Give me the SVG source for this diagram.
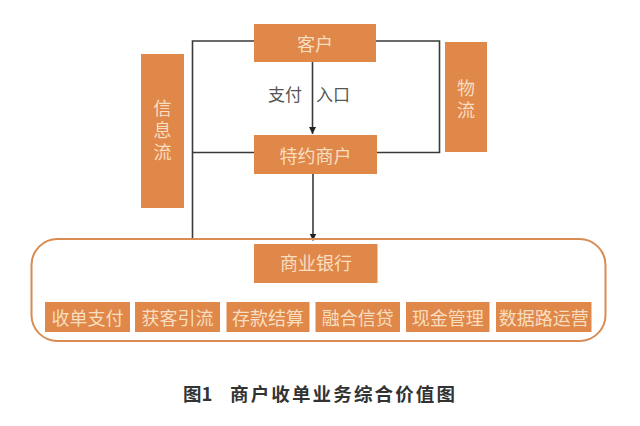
<svg xmlns="http://www.w3.org/2000/svg" width="640" height="426" viewBox="0 0 640 426">
<defs>
<marker id="ah" viewBox="0 0 10 10" refX="10" refY="5" markerWidth="7" markerHeight="7" markerUnits="userSpaceOnUse" orient="auto">
<path d="M0,0 L10,5 L0,10 z" fill="#222"/>
</marker>
<style>
.box{fill:#E0884A;}
.t{font-family:"Noto Sans CJK SC","Noto Sans",sans-serif;font-size:18px;fill:#F8DEC0;text-anchor:middle;dominant-baseline:central;}
.v{font-family:"Noto Sans CJK SC","Noto Sans",sans-serif;font-size:18px;fill:#F8DEC0;text-anchor:middle;writing-mode:vertical-rl;letter-spacing:4px;}
.ln{fill:none;stroke:#3a3a3a;stroke-width:1.6;}
.lbl{font-family:"Noto Sans CJK SC","Noto Sans",sans-serif;font-size:17px;fill:#555;dominant-baseline:central;}
.cap{font-family:"Noto Sans CJK SC","Noto Sans",sans-serif;font-size:18.5px;font-weight:bold;fill:#333;dominant-baseline:central;}
</style>
</defs>
<rect width="640" height="426" fill="#fff"/>
<g id="connectors">
<path class="ln" d="M254,41 H192.5 V239"/>
<path class="ln" d="M192.5,152.5 H254"/>
<path class="ln" d="M376,41 H439.5 V152.5 H376"/>
<path class="ln" d="M312.5,62 V134" marker-end="url(#ah)"/>
<path class="ln" d="M313,174 V240.5" marker-end="url(#ah)"/>
<text class="lbl" x="268" y="93">支付</text>
<text class="lbl" x="316" y="93">入口</text>
</g>
<g id="bank-group">
<rect x="31.5" y="239" width="574" height="102" rx="26" fill="none" stroke="#D98C52" stroke-width="2"/>
</g>
<g id="customer"><rect class="box" x="254" y="24" width="122" height="38"/><text class="t" x="315" y="43">客户</text></g>
<g id="merchant"><rect class="box" x="254" y="135" width="123" height="39"/><text class="t" x="315.5" y="155">特约商户</text></g>
<g id="info-flow"><rect class="box" x="141" y="54" width="43" height="154"/>
<text class="v" x="162.5" y="132">信息流</text></g>
<g id="logistics"><rect class="box" x="445" y="42" width="42" height="110"/>
<text class="v" x="466" y="101">物流</text></g>
<g id="bank"><rect class="box" x="254" y="244" width="123.5" height="39"/><text class="t" x="316" y="262">商业银行</text></g>
<g id="b1"><rect class="box" x="45" y="302" width="85" height="30"/><text class="t" x="87.5" y="317">收单支付</text></g>
<g id="b2"><rect class="box" x="135" y="302" width="85" height="30"/><text class="t" x="177.5" y="317">获客引流</text></g>
<g id="b3"><rect class="box" x="226.5" y="302" width="83" height="30"/><text class="t" x="268" y="317">存款结算</text></g>
<g id="b4"><rect class="box" x="315.5" y="302" width="84.5" height="30"/><text class="t" x="357.7" y="317">融合信贷</text></g>
<g id="b5"><rect class="box" x="406" y="302" width="83.5" height="30"/><text class="t" x="447.7" y="317">现金管理</text></g>
<g id="b6"><rect class="box" x="496" y="302" width="95.5" height="30"/><text class="t" x="543.7" y="317">数据路运营</text></g>
<g id="caption">
<text class="cap" x="183" y="393">图1</text>
<text class="cap" x="230" y="393" textLength="225" lengthAdjust="spacing">商户收单业务综合价值图</text>
</g>
</svg>
